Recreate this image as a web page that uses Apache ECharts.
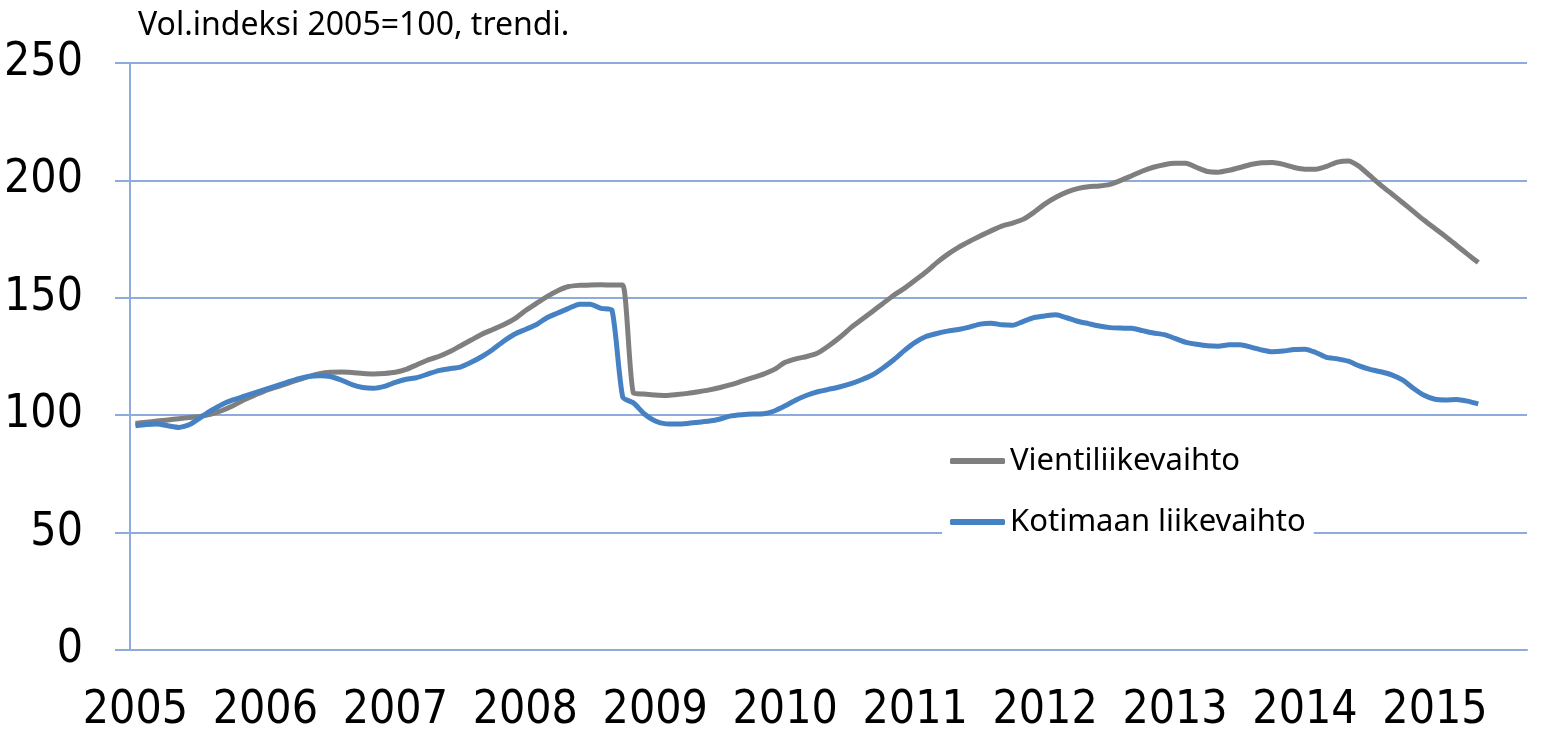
<!DOCTYPE html>
<html>
<head>
<meta charset="utf-8">
<script src="https://cdn.jsdelivr.net/npm/echarts@6/dist/echarts.min.js"></script>
<style>
  html, body { margin: 0; padding: 0; background: #fff; }
  #main { width: 1554px; height: 730px; }
</style>
</head>
<body>
<div id="main"></div>
<script>
// vuodet x-akselilla, kuukausittainen data tammikuusta 2005
var years = ['2005', '2006', '2007', '2008', '2009', '2010', '2011', '2012', '2013', '2014', '2015'];

// Vientiliikevaihto, 2005/01 - 2015/05
var vienti = [
  96.5, 97, 97.5, 98, 98.5, 99, 99.5, 100.5, 102, 104, 106.5, 108.5,
  110.5, 112, 113.5, 115, 116.5, 117.7, 118.3, 118.4, 118.2, 117.8, 117.6, 117.8,
  118.3, 119.5, 121.5, 123.5, 125, 127, 129.5, 132, 134.5, 136.5, 138.5, 141,
  144.5, 147.5, 150.5, 153, 154.8, 155.3, 155.5, 155.6, 155.4, 155.4, 109.3, 109,
  108.6, 108.4, 108.8, 109.3, 110, 110.8, 111.8, 113, 114.5, 116, 117.5, 119.5,
  122.5, 124, 125, 126.5, 129.5, 133, 137, 140.5, 144, 147.5, 151, 154,
  157.5, 161, 165, 168.5, 171.5, 174, 176.3, 178.5, 180.5, 181.8, 183.5, 186.5,
  190, 192.8, 195, 196.5, 197.3, 197.6, 198.3, 200, 202, 204, 205.6, 206.7,
  207.3, 207.3, 205.5, 203.8, 203.5, 204.3, 205.5, 206.8, 207.5, 207.6, 206.8, 205.5,
  204.8, 204.8, 206, 207.8, 208.3, 206, 202, 198, 194.3, 190.6, 186.8, 183,
  179.5, 176, 172.3, 168.6, 165
];

// Kotimaan liikevaihto, 2005/01 - 2015/05
var kotimaa = [
  95.5, 96, 96.2, 95.5, 94.8, 96, 99, 102, 104.6, 106.5, 108, 109.5,
  111, 112.5, 114, 115.5, 116.5, 116.8, 116.5, 115, 113, 111.8, 111.5, 112.3,
  114, 115.3, 116, 117.5, 119, 119.8, 120.5, 122.5, 125, 128, 131.5, 134.5,
  136.5, 138.5, 141.5, 143.5, 145.5, 147.3, 147.3, 145.5, 144.8, 107.7, 105.2, 100.5,
  97.5, 96.3, 96.2, 96.5, 97, 97.5, 98.4, 99.7, 100.2, 100.5, 100.6, 101.8,
  104, 106.5, 108.5, 110, 111, 112, 113.3, 115, 117, 120, 123.5, 127.5,
  131, 133.5, 134.8, 135.8, 136.5, 137.5, 138.8, 139.2, 138.5, 138.3, 140, 141.6,
  142.3, 142.8, 141.5, 140, 139, 138, 137.3, 137.1, 137, 136, 135, 134.3,
  132.7, 131, 130.2, 129.6, 129.4, 130, 130, 129, 127.8, 127, 127.3, 128,
  128.1, 126.7, 124.6, 124, 123, 121, 119.5, 118.5, 117.2, 115, 111.5, 108.5,
  106.8, 106.5, 106.7, 106, 104.8
];

var yTicks = [0, 50, 100, 150, 200, 250];

// kuukausiluokat 2005/01 - 2015/09 (akseli päättyy syyskuuhun 2015)
var months = [];
years.forEach(function (y) {
  for (var m = 1; m <= 12; m++) months.push(y + '-' + m);
});
months = months.slice(0, 129);

var gridColor = '#8FAADC';
var narrow = '"DejaVu Sans Condensed", "Liberation Sans Narrow", "Noto Sans", sans-serif';
var humanist = '"Noto Sans", "DejaVu Sans", sans-serif';

var myChart = echarts.init(document.getElementById('main'));
var option = {
  animation: false,
  title: {
    text: 'Vol.indeksi 2005=100, trendi.',
    left: 133,
    top: 5,
    textStyle: { fontFamily: humanist, fontSize: 32, fontWeight: 'normal', color: '#000' }
  },
  legend: {
    orient: 'vertical',
    left: 942,
    top: 437,
    padding: [8, 8],
    backgroundColor: '#fff',
    icon: 'roundRect',
    itemWidth: 55,
    itemHeight: 6,
    itemGap: 29,
    textStyle: { fontFamily: humanist, fontSize: 31, color: '#000', lineHeight: 32 },
    data: ['Vientiliikevaihto', 'Kotimaan liikevaihto']
  },
  grid: { left: 130, top: 63, width: 1397, height: 587, containLabel: false, outerBoundsMode: 'none' },
  xAxis: {
    type: 'category',
    data: months,
    boundaryGap: true,
    axisLine: { onZero: false, lineStyle: { color: gridColor, width: 2 } },
    axisTick: {
      length: 12,
      lineStyle: { color: gridColor, width: 2 },
      interval: function (i) { return i % 12 === 0; }
    },
    axisLabel: {
      interval: function (i) { return i % 12 === 0; },
      formatter: function (v) { return v.split('-')[0]; },
      fontFamily: narrow,
      fontSize: 46,
      color: '#000',
      margin: 38
    },
    splitLine: { show: false }
  },
  yAxis: {
    type: 'value',
    min: yTicks[0],
    max: yTicks[yTicks.length - 1],
    interval: 50,
    axisLine: { show: true, onZero: false, lineStyle: { color: gridColor, width: 2 } },
    axisTick: { show: true, length: 15, lineStyle: { color: gridColor, width: 2 } },
    axisLabel: { fontFamily: narrow, fontSize: 46, color: '#000', margin: 47, padding: [4, 0, 0, 0] },
    splitLine: { lineStyle: { color: gridColor, width: 2 } }
  },
  series: [
    {
      name: 'Vientiliikevaihto',
      type: 'line',
      data: vienti,
      symbol: 'none',
      smooth: 0.2,
      z: 2,
      itemStyle: { color: '#7F7F7F' },
      lineStyle: { color: '#7F7F7F', width: 5 }
    },
    {
      name: 'Kotimaan liikevaihto',
      type: 'line',
      data: kotimaa,
      symbol: 'none',
      smooth: 0.2,
      z: 3,
      itemStyle: { color: '#4581C3' },
      lineStyle: { color: '#4581C3', width: 5 }
    }
  ]
};
myChart.setOption(option);
</script>
</body>
</html>
